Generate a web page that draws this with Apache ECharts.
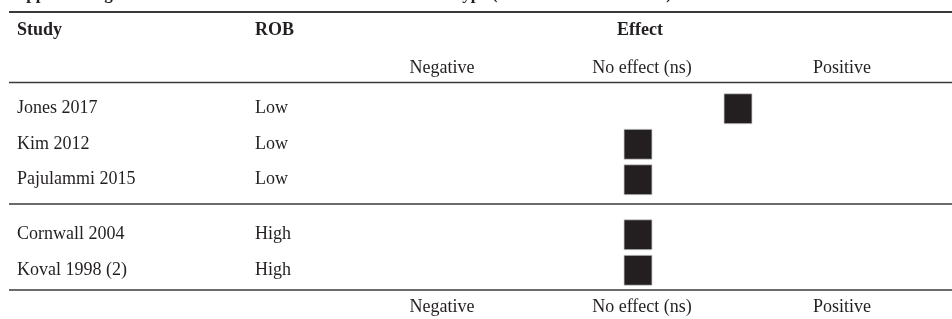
<!DOCTYPE html>
<html>
<head>
<meta charset="UTF-8">
<title>Effect by study</title>
<script src="https://cdn.jsdelivr.net/npm/echarts@6/dist/echarts.min.js"></script>
<style>
  html, body { margin: 0; padding: 0; background: #fff; }
  #chart { width: 952px; height: 319px; }
</style>
</head>
<body>
<div id="chart"></div>
<script>
// data
var studies = ['Jones 2017', 'Kim 2012', 'Pajulammi 2015', 'Cornwall 2004', 'Koval 1998 (2)'];
var rob = ['Low', 'Low', 'Low', 'High', 'High'];
// effect: -1 negative, 0 no effect (ns), 1 positive
var effect = [0.5, 0, 0, 0, 0];
var effectLabels = { '-1': 'Negative', '0': 'No effect (ns)', '1': 'Positive' };
var groupLow = [0, 1, 2];
var groupHigh = [3, 4];

var ink = '#231f20';
var serif = '"Liberation Serif", "DejaVu Serif", serif';

function effLabel(v) {
  return effectLabels[String(v)] || '';
}
function rowLabel(name) {
  var i = studies.indexOf(name);
  return '{s|' + name + '}{r|' + rob[i] + '}';
}
function pts(idx) {
  return idx.map(function (i) { return [effect[i], studies[i]]; });
}

var chart = echarts.init(document.getElementById('chart'));

var yBase = {
  type: 'category',
  inverse: true,
  axisLine: { show: false },
  axisTick: { show: false },
  splitLine: { show: false },
  axisLabel: {
    align: 'left',
    margin: 225,
    formatter: rowLabel,
    rich: {
      s: { width: 238, fontFamily: serif, fontSize: 18, color: ink },
      r: { fontFamily: serif, fontSize: 18, color: ink }
    }
  }
};
var xBase = {
  type: 'value',
  min: -2,
  max: 1.5,
  interval: 1,
  axisLine: { show: false },
  axisTick: { show: false },
  splitLine: { show: false },
  axisLabel: {
    formatter: effLabel,
    fontFamily: serif,
    fontSize: 18,
    color: ink,
    showMinLabel: true,
    showMaxLabel: true
  }
};
var square = {
  type: 'scatter',
  symbol: 'rect',
  symbolSize: [28, 30],
  symbolOffset: [-4, 0],
  itemStyle: { color: ink, opacity: 1, borderColor: '#d0d0d0', borderWidth: 0.8 }
};

var option = {
  backgroundColor: '#fff',
  animation: false,
  grid: [
    { left: 242, right: 10, top: 91, height: 106.5 },
    { left: 242, right: 10, top: 217, height: 71 }
  ],
  xAxis: [
    echarts.util.merge({ gridIndex: 0, position: 'top', axisLabel: { margin: 14 } }, xBase),
    echarts.util.merge({ gridIndex: 1, position: 'bottom', axisLabel: { margin: 10 } }, xBase)
  ],
  yAxis: [
    echarts.util.merge({ gridIndex: 0, data: groupLow.map(function (i) { return studies[i]; }) }, yBase),
    echarts.util.merge({ gridIndex: 1, data: groupHigh.map(function (i) { return studies[i]; }) }, yBase)
  ],
  series: [
    echarts.util.merge({ xAxisIndex: 0, yAxisIndex: 0, data: pts(groupLow) }, square),
    echarts.util.merge({ xAxisIndex: 1, yAxisIndex: 1, data: pts(groupHigh) }, square)
  ],
  graphic: [
    // clipped caption at the very top
    { type: 'text', left: 14, top: -14, style: { text: 'Appendix Figure S3. Effects associated between intervention type (chronic illness measure) and the intervention outcomes', font: 'bold 17px ' + serif, fill: ink } },
    // table rules
    { type: 'line', shape: { x1: 9, y1: 12, x2: 952, y2: 12 }, style: { stroke: '#3a3a3a', lineWidth: 2 } },
    { type: 'line', shape: { x1: 9, y1: 82.5, x2: 952, y2: 82.5 }, style: { stroke: '#3a3a3a', lineWidth: 1.5 } },
    { type: 'line', shape: { x1: 9, y1: 204, x2: 952, y2: 204 }, style: { stroke: '#3a3a3a', lineWidth: 1.5 } },
    { type: 'line', shape: { x1: 9, y1: 290, x2: 952, y2: 290 }, style: { stroke: '#3a3a3a', lineWidth: 1.5 } },
    // header
    { type: 'text', x: 17, y: 30, style: { text: 'Study', font: 'bold 18px ' + serif, fill: ink, verticalAlign: 'middle' } },
    { type: 'text', x: 255, y: 30, style: { text: 'ROB', font: 'bold 18px ' + serif, fill: ink, verticalAlign: 'middle' } },
    { type: 'text', x: 640, y: 30, style: { text: 'Effect', font: 'bold 18px ' + serif, fill: ink, align: 'center', verticalAlign: 'middle' } }
  ]
};
chart.setOption(option);
</script>
</body>
</html>
